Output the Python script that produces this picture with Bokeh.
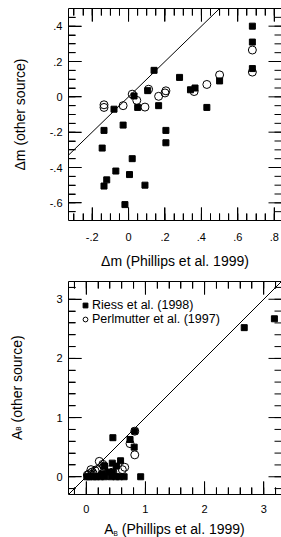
import json
from bokeh.plotting import figure
from bokeh.models import (Range1d, LinearAxis, FixedTicker, CustomJSTickFormatter,
                          Legend, LegendItem, Div)
from bokeh.layouts import column, row
from bokeh.embed import file_html
from bokeh.resources import INLINE

FONT = "Liberation Sans"

# ---- Top panel: magnitude offsets ----
riess_dm_phillips = [0.68, 0.68, 0.68, 0.14, 0.28, 0.34, 0.365, 0.50, 0.43, 0.165, 0.105, 0.03, 0.05,
                     -0.08, -0.135, -0.03, 0.205, 0.205, -0.145, 0.02, -0.07, -0.12, -0.135, 0.005, 0.09, -0.02]
riess_dm_other = [0.40, 0.31, 0.16, 0.15, 0.11, 0.04, 0.05, 0.09, -0.06, -0.05, 0.035, 0.005, -0.06,
                  -0.07, -0.19, -0.16, -0.19, -0.26, -0.29, -0.35, -0.42, -0.47, -0.505, -0.44, -0.50, -0.61]
perl_dm_phillips = [0.68, 0.68, -0.135, -0.135, -0.03, 0.02, 0.045, 0.09, 0.11, 0.165, 0.205, 0.20, 0.36, 0.43, 0.50]
perl_dm_other = [0.265, 0.14, -0.045, -0.06, -0.05, 0.015, -0.02, -0.058, 0.043, 0.003, 0.034, 0.022, 0.03, 0.07, 0.124]

# ---- Bottom panel: extinction A_B ----
riess_ab_phillips = [3.18, 2.67, 0.45, 0.74, 0.82, 0.81, 0.92, 0.58, 0.44, 0.31, 0.51, 0.37, 0.45, 0.27,
                     0.01, 0.05, 0.12, 0.17, 0.24, 0.31, 0.42, 0.50, 0.56, 0.64]
riess_ab_other = [2.67, 2.52, 0.66, 0.63, 0.77, 0.50, 0.00, 0.27, 0.23, 0.18, 0.18, 0.08, 0.08, 0.05,
                  0.0, 0.0, 0.0, 0.0, 0.0, 0.0, 0.0, 0.0, 0.0, 0.0]
perl_ab_phillips = [0.82, 0.74, 0.82, 0.65, 0.61, 0.22, 0.28, 0.30, 0.45, 0.02, 0.05, 0.08, 0.10, 0.12, 0.15, 0.18]
perl_ab_other = [0.77, 0.56, 0.37, 0.16, 0.12, 0.26, 0.21, 0.18, 0.08, 0.03, 0.05, 0.12, 0.08, 0.05, 0.10, 0.12]

# ---- ticks ----
dm_x_ticks = [-0.2, 0, 0.2, 0.4, 0.6, 0.8]
dm_x_labels = ["-.2", "0", ".2", ".4", ".6", ".8"]
dm_x_minor = [round(-0.3 + 0.05 * i, 2) for i in range(23)]
dm_y_ticks = [-0.6, -0.4, -0.2, 0, 0.2, 0.4]
dm_y_labels = ["-.6", "-.4", "-.2", "0", ".2", ".4"]
dm_y_minor = [round(-0.65 + 0.05 * i, 2) for i in range(23)]
ab_ticks = [0, 1, 2, 3]
ab_labels = ["0", "1", "2", "3"]
ab_minor = [round(-0.2 + 0.2 * i, 1) for i in range(18)]

legend_labels = ["Riess et al. (1998)", "Perlmutter et al. (1997)"]

MAJOR_LEN = 13
MINOR_LEN = 7


def label_formatter(ticks, labels):
    code = ("const t = %s; const l = %s;\n" % (json.dumps(list(ticks)), json.dumps(list(labels))) +
            "for (let i = 0; i < t.length; i++) { if (Math.abs(tick - t[i]) < 1e-9) return l[i]; }\n"
            "return '';")
    return CustomJSTickFormatter(code=code)


def inner_ticks(p, xt, xm, yt, ym, fw, fh):
    """Inward tick marks on all four frame edges, as thin filled rectangles inside the frame."""
    x0, x1 = p.x_range.start, p.x_range.end
    y0, y1 = p.y_range.start, p.y_range.end
    dx = (x1 - x0) / fw
    dy = (y1 - y0) / fh
    for vals, ln in ((xm, MINOR_LEN), (xt, MAJOR_LEN)):
        n = len(vals)
        for yc in (y0 + ln * dy / 2, y1 - ln * dy / 2):
            p.rect(x=list(vals), y=[yc] * n, width=1, height=ln,
                   width_units="screen", height_units="screen",
                   fill_color="black", line_color=None, level="overlay")
    for vals, ln in ((ym, MINOR_LEN), (yt, MAJOR_LEN)):
        n = len(vals)
        for xc in (x0 + ln * dx / 2, x1 - ln * dx / 2):
            p.rect(x=[xc] * n, y=list(vals), width=ln, height=1,
                   width_units="screen", height_units="screen",
                   fill_color="black", line_color=None, level="overlay")


def one_to_one(p):
    """The y = x reference line across the x range (clipped by the frame)."""
    xr = p.x_range
    p.line(x=[xr.start, xr.end], y=[xr.start, xr.end], line_color="black", line_width=1)


def style(p, xt, xl, xm, yt, yl, ym):
    p.xgrid.visible = False
    p.ygrid.visible = False
    p.outline_line_color = None
    p.add_layout(LinearAxis(), "above")
    for ax in p.xaxis:
        ax.ticker = FixedTicker(ticks=list(xt), minor_ticks=list(xm))
    for ax in p.yaxis:
        ax.ticker = FixedTicker(ticks=list(yt), minor_ticks=list(ym))
    for ax in p.axis:
        ax.major_tick_in = MAJOR_LEN
        ax.major_tick_out = 0
        ax.minor_tick_in = MINOR_LEN
        ax.minor_tick_out = 0
        ax.major_tick_line_color = "black"
        ax.minor_tick_line_color = "black"
        ax.axis_line_color = "black"
        ax.major_label_text_font = FONT
        ax.major_label_text_font_size = "11px"
        ax.major_label_text_color = "black"
        ax.axis_label_text_font = FONT
        ax.axis_label_text_font_size = "14px"
        ax.axis_label_text_font_style = "normal"
        ax.axis_label_text_color = "black"
    p.below[0].formatter = label_formatter(xt, xl)
    p.left[0].formatter = label_formatter(yt, yl)
    p.above[0].formatter = CustomJSTickFormatter(code="return '';")
    p.above[0].major_label_standoff = 0
    p.left[0].major_label_standoff = 6
    one_to_one(p)


# ---------- top figure ----------
p1 = figure(frame_width=213, frame_height=212, output_backend="svg", toolbar_location=None,
            x_range=Range1d(-0.33, 0.84), y_range=Range1d(-0.7, 0.5),
            min_border_left=68, min_border_right=0, min_border_top=8, min_border_bottom=48)
style(p1, dm_x_ticks, dm_x_labels, dm_x_minor, dm_y_ticks, dm_y_labels, dm_y_minor)
p1.below[0].axis_label = "Δm (Phillips et al. 1999)"
p1.below[0].major_label_standoff = 12
p1.below[0].axis_label_standoff = 9
p1.left[0].axis_label = "Δm (other source)"
p1.left[0].axis_label_standoff = 19
p1.scatter(perl_dm_phillips, perl_dm_other, marker="circle", size=8, fill_color=None,
           line_color="black", line_width=1)
p1.scatter(riess_dm_phillips, riess_dm_other, marker="square", size=6, fill_color="black",
           line_color="black")
inner_ticks(p1, dm_x_ticks, dm_x_minor, dm_y_ticks, dm_y_minor, 213, 212)

# ---------- bottom figure ----------
YLAB_W = 24
p2 = figure(frame_width=213, frame_height=213, output_backend="svg", toolbar_location=None,
            x_range=Range1d(-0.3, 3.3), y_range=Range1d(-0.3, 3.3),
            min_border_left=68 - YLAB_W, min_border_right=0, min_border_top=10, min_border_bottom=24)
style(p2, ab_ticks, ab_labels, ab_minor, ab_ticks, ab_labels, ab_minor)
p2.below[0].major_label_standoff = 10
c2 = p2.scatter(perl_ab_phillips, perl_ab_other, marker="circle", size=8, fill_color=None,
                line_color="black", line_width=1)
s2 = p2.scatter(riess_ab_phillips, riess_ab_other, marker="square", size=6, fill_color="black",
                line_color="black")
inner_ticks(p2, ab_ticks, ab_minor, ab_ticks, ab_minor, 213, 213)

legend = Legend(items=[LegendItem(label=legend_labels[0], renderers=[s2]),
                       LegendItem(label=legend_labels[1], renderers=[c2])],
                location=(11, 168), orientation="vertical",
                glyph_width=12, glyph_height=12, label_height=12, label_standoff=1,
                spacing=0, padding=0, margin=0,
                label_text_font=FONT, label_text_font_size="12.5px", label_text_color="black",
                border_line_color=None, background_fill_alpha=0)
p2.add_layout(legend)

SUB = '<span style="font-size:6.5px;vertical-align:-2px;line-height:0">B</span>'
xlab = Div(text=('<div style="margin-left:68px;width:213px;margin-top:3px;text-align:center;'
                 'font-family:\'Liberation Sans\';font-size:14px;line-height:16px;color:black;'
                 'white-space:nowrap">A' + SUB + ' (Phillips et al. 1999)</div>'),
           width=281, height=20, margin=0)
ylab = Div(text=('<div style="writing-mode:vertical-rl;transform:rotate(180deg);'
                 'margin-left:9px;margin-top:10px;height:213px;width:16px;text-align:center;'
                 'font-family:\'Liberation Sans\';font-size:14px;line-height:16px;color:black;'
                 'white-space:nowrap">A' + SUB + ' (other source)</div>'),
           width=YLAB_W, height=247, margin=0)

page = column(p1, row(ylab, p2), xlab)
open("out.html", "w").write(file_html(page, INLINE))
